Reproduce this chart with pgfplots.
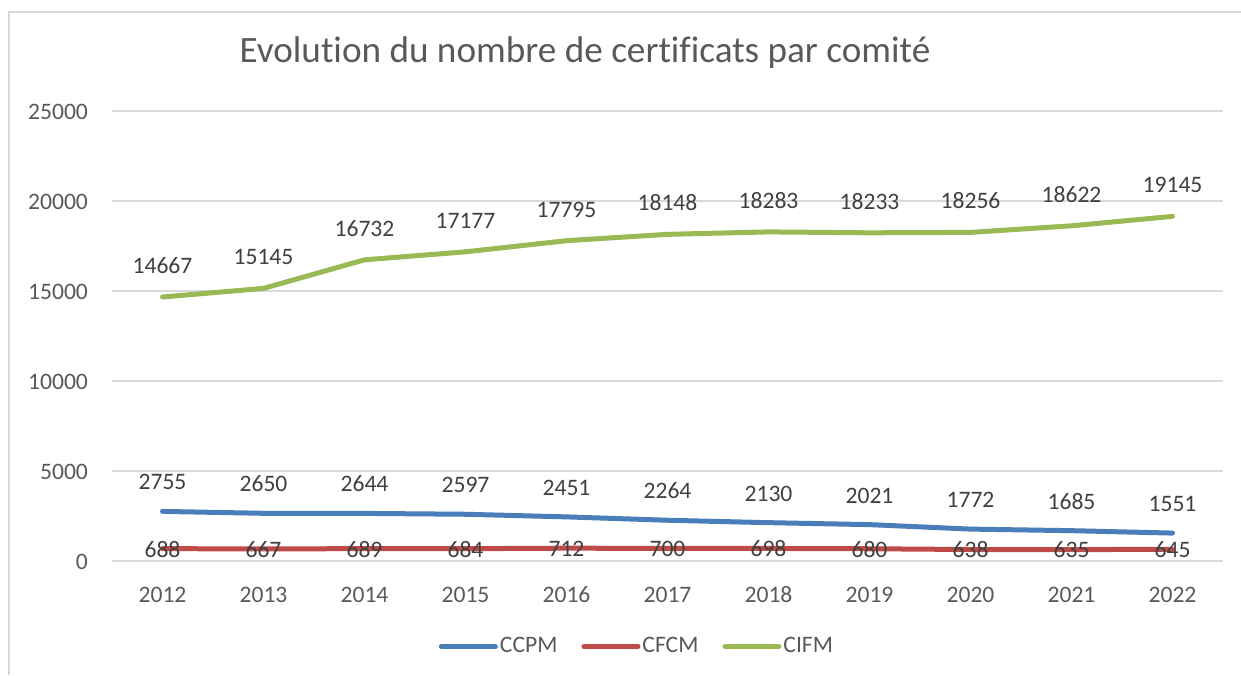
\documentclass[border=0pt]{standalone}
\usepackage{pgfplots}
\pgfplotsset{compat=1.18}
\usepackage{fontspec}
\setmainfont{Carlito}[Ligatures=NoCommon]
\definecolor{ccpm}{HTML}{4A7EBB}
\definecolor{cfcm}{HTML}{BE4B48}
\definecolor{cifm}{HTML}{98B954}
\definecolor{gridc}{HTML}{D9D9D9}
\definecolor{tickc}{HTML}{595959}
\definecolor{labc}{HTML}{404040}
\begin{document}
\begin{tikzpicture}
\useasboundingbox (0,0) rectangle (620.5pt,337.5pt);
\draw[gridc, line width=0.75pt] (4.5pt,0pt) -- (4.5pt,331.5pt) -- (620.5pt,331.5pt);
\node[font=\fontsize{18.6}{22}\selectfont, text=tickc] at (292.5pt,311pt) {Evolution du nombre de certificats par comité};
\begin{axis}[
  at={(56pt,57pt)}, anchor=south west,
  scale only axis, width=555.5pt, height=225pt,
  xmin=-0.5, xmax=10.5, ymin=0, ymax=25000,
  xtick={0,...,10},
  xticklabels={2012,2013,2014,2015,2016,2017,2018,2019,2020,2021,2022},
  ytick={0,5000,10000,15000,20000,25000},
  /pgf/number format/fixed, /pgf/number format/1000 sep={}, /pgf/number format/assume math mode=true,
  scaled y ticks=false,
  ticklabel style={font=\fontsize{11.8}{13}\selectfont, text=tickc, text height=8.4pt, text depth=0pt},
  xticklabel style={yshift=-9pt},
  yticklabel style={xshift=-8.5pt},
  major tick length=0pt,
  axis line style={draw=none},
  ymajorgrids, grid style={gridc, line width=0.75pt},
  every axis plot/.append style={line width=2.5pt, line cap=round, line join=round, mark=none},
  nodes near coords,
  every node near coord/.append style={font=\fontsize{11.8}{13}\selectfont, text=labc, anchor=center, text height=8.4pt, text depth=0pt},
  point meta=explicit symbolic,
  legend style={at={(0.4725,-0.19)}, anchor=center, draw=none, fill=none,
    legend columns=3, font=\fontsize{11.8}{13}\selectfont, text=tickc,
    nodes={inner xsep=1pt},
    /tikz/every even column/.append style={column sep=11pt}},
  legend image code/.code={\draw[#1, line width=2.5pt, line cap=round] (0pt,0pt) -- (27pt,0pt);},
  clip=false,
]
\addplot[ccpm, every node near coord/.append style={yshift=15pt}] coordinates {
 (0,2755)[2755] (1,2650)[2650] (2,2644)[2644] (3,2597)[2597] (4,2451)[2451] (5,2264)[2264]
 (6,2130)[2130] (7,2021)[2021] (8,1772)[1772] (9,1685)[1685] (10,1551)[1551]};
\addlegendentry{CCPM}
\addplot[cfcm, every node near coord/.append style={yshift=0pt}] coordinates {
 (0,688)[688] (1,667)[667] (2,689)[689] (3,684)[684] (4,712)[712] (5,700)[700]
 (6,698)[698] (7,680)[680] (8,638)[638] (9,635)[635] (10,645)[645]};
\addlegendentry{CFCM}
\addplot[cifm, every node near coord/.append style={yshift=16pt}] coordinates {
 (0,14667)[14667] (1,15145)[15145] (2,16732)[16732] (3,17177)[17177] (4,17795)[17795] (5,18148)[18148]
 (6,18283)[18283] (7,18233)[18233] (8,18256)[18256] (9,18622)[18622] (10,19145)[19145]};
\addlegendentry{CIFM}
\end{axis}
\end{tikzpicture}
\end{document}
